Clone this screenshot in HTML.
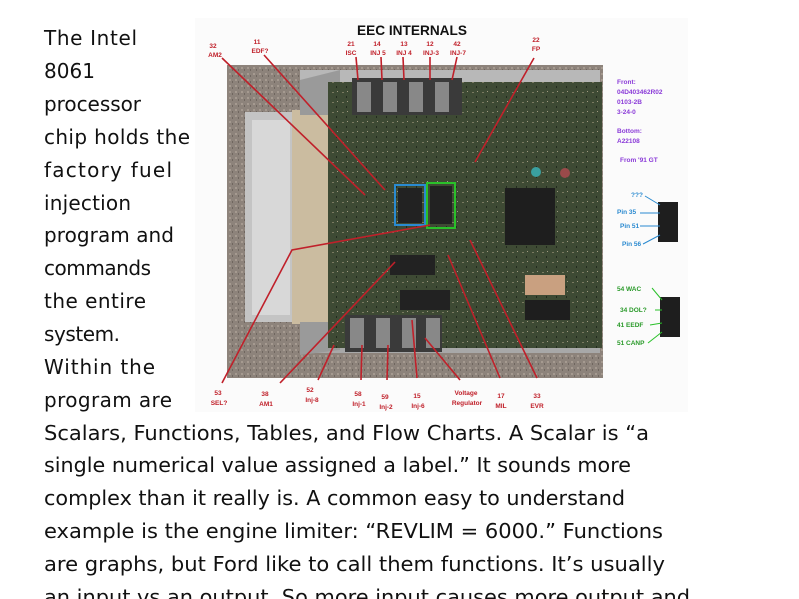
<!DOCTYPE html>
<html><head><meta charset="utf-8"><style>
html,body{margin:0;padding:0;background:#fff;width:799px;height:599px;overflow:hidden}
svg{display:block}
.t{font-family:"DejaVu Sans","Liberation Sans",sans-serif;font-size:20px;fill:#111}
.l{font-family:"Liberation Sans",sans-serif;font-size:6.5px;font-weight:bold;fill:#c0202a}
.p{font-family:"Liberation Sans",sans-serif;font-size:6.5px;font-weight:bold;fill:#8a3ad8}
.b{font-family:"Liberation Sans",sans-serif;font-size:6.5px;font-weight:bold;fill:#2a8ad0}
.g{font-family:"Liberation Sans",sans-serif;font-size:6.5px;font-weight:bold;fill:#2a9a2a}
</style></head><body>
<svg width="799" height="599" viewBox="0 0 799 599" xmlns="http://www.w3.org/2000/svg">
<defs>
<pattern id="carpet" width="6" height="6" patternUnits="userSpaceOnUse">
<rect width="6" height="6" fill="#8d837b"/><rect x="1" y="1" width="2" height="2" fill="#a59a90"/><rect x="4" y="3" width="1" height="2" fill="#6f665f"/>
</pattern>
<pattern id="pcb" width="10" height="10" patternUnits="userSpaceOnUse">
<rect width="10" height="10" fill="#3e4a34"/><rect x="2" y="2" width="2" height="1" fill="#7a7a60"/><rect x="6" y="6" width="1" height="2" fill="#222a1e"/><rect x="7" y="1" width="1" height="1" fill="#a09a80"/>
</pattern>
</defs>
<rect x="195" y="18" width="493" height="394" fill="#fbfbfb"/>
<rect x="227" y="65" width="376" height="313" fill="url(#carpet)"/>
<rect x="300" y="70" width="300" height="12" fill="#b8b8b8"/>
<rect x="300" y="343" width="300" height="10" fill="#a8a8a8"/>
<rect x="245" y="112" width="52" height="210" fill="#c4c4c4"/>
<rect x="252" y="120" width="38" height="195" fill="#d8d8d8"/>
<rect x="292" y="110" width="40" height="214" fill="#cbbca0"/>
<polygon points="300,80 340,70 340,115 300,115" fill="#9a9a9a"/>
<polygon points="300,322 340,322 340,350 300,355" fill="#9a9a9a"/>
<rect x="328" y="82" width="274" height="266" fill="url(#pcb)"/>
<rect x="352" y="78" width="110" height="37" fill="#3a3a3a"/>
<rect x="357" y="82" width="14" height="30" fill="#888"/><rect x="383" y="82" width="14" height="30" fill="#888"/><rect x="409" y="82" width="14" height="30" fill="#888"/><rect x="435" y="82" width="14" height="30" fill="#888"/>
<rect x="345" y="315" width="97" height="37" fill="#3a3a3a"/>
<rect x="350" y="318" width="14" height="30" fill="#888"/><rect x="376" y="318" width="14" height="30" fill="#888"/><rect x="402" y="318" width="14" height="30" fill="#888"/><rect x="426" y="318" width="14" height="30" fill="#888"/>
<rect x="505" y="188" width="50" height="57" fill="#1e1e1e"/>
<rect x="525" y="275" width="40" height="20" fill="#c9a080"/>
<rect x="525" y="300" width="45" height="20" fill="#1e1e1e"/>
<rect x="398" y="188" width="24" height="35" fill="#222"/>
<rect x="430" y="186" width="22" height="38" fill="#222"/>
<rect x="395" y="185" width="30" height="40" fill="none" stroke="#2a8ad0" stroke-width="2"/>
<rect x="427" y="183" width="28" height="45" fill="none" stroke="#2ac02a" stroke-width="2"/>
<rect x="390" y="255" width="45" height="20" fill="#222"/>
<rect x="400" y="290" width="50" height="20" fill="#222"/>
<circle cx="536" cy="172" r="5" fill="#3aa0a0"/><circle cx="565" cy="173" r="5" fill="#9a4a4a"/>
<rect x="658" y="202" width="20" height="40" fill="#1e1e1e"/>
<rect x="660" y="297" width="20" height="40" fill="#1e1e1e"/>
<g stroke="#c0202a" stroke-width="1.6" fill="none">
<line x1="222" y1="58" x2="365" y2="195"/>
<line x1="264" y1="55" x2="385" y2="190"/>
<line x1="356" y1="57" x2="358" y2="80"/><line x1="381" y1="57" x2="382" y2="80"/><line x1="403" y1="57" x2="404" y2="80"/><line x1="430" y1="57" x2="430" y2="80"/><line x1="457" y1="57" x2="452" y2="80"/>
<line x1="534" y1="58" x2="475" y2="162"/>
<polyline points="222,383 292,250 430,225"/>
<line x1="280" y1="383" x2="395" y2="262"/>
<line x1="318" y1="380" x2="334" y2="345"/>
<line x1="361" y1="380" x2="362" y2="345"/>
<line x1="387" y1="380" x2="388" y2="345"/>
<line x1="417" y1="378" x2="412" y2="320"/>
<line x1="460" y1="380" x2="425" y2="338"/>
<line x1="500" y1="378" x2="448" y2="255"/>
<line x1="537" y1="378" x2="470" y2="240"/>
</g>
<g stroke="#2a8ad0" stroke-width="1" fill="none"><line x1="645" y1="196" x2="660" y2="205"/><line x1="640" y1="213" x2="660" y2="213"/><line x1="640" y1="226" x2="660" y2="226"/><line x1="643" y1="244" x2="660" y2="235"/></g>
<g stroke="#2ac02a" stroke-width="1" fill="none"><line x1="652" y1="288" x2="662" y2="300"/><line x1="655" y1="310" x2="662" y2="310"/><line x1="650" y1="325" x2="662" y2="323"/><line x1="648" y1="343" x2="662" y2="332"/></g>
<text x="412" y="35" text-anchor="middle" font-family="Liberation Sans,sans-serif" font-weight="bold" font-size="14" fill="#111" textLength="110" lengthAdjust="spacingAndGlyphs">EEC INTERNALS</text>
<g class="l" text-anchor="middle">
<text x="213" y="48">32</text><text x="215" y="57">AM2</text>
<text x="257" y="44">11</text><text x="260" y="53">EDF?</text>
<text x="351" y="46">21</text><text x="351" y="55">ISC</text>
<text x="377" y="46">14</text><text x="378" y="55">INJ 5</text>
<text x="404" y="46">13</text><text x="404" y="55">INJ 4</text>
<text x="430" y="46">12</text><text x="431" y="55">INJ-3</text>
<text x="457" y="46">42</text><text x="458" y="55">INJ-7</text>
<text x="536" y="42">22</text><text x="536" y="51">FP</text>
<text x="218" y="395">53</text><text x="219" y="405">SEL?</text>
<text x="265" y="396">38</text><text x="266" y="406">AM1</text>
<text x="310" y="392">52</text><text x="312" y="402">Inj-8</text>
<text x="358" y="396">58</text><text x="359" y="406">Inj-1</text>
<text x="385" y="399">59</text><text x="386" y="409">Inj-2</text>
<text x="417" y="398">15</text><text x="418" y="408">Inj-6</text>
<text x="466" y="395">Voltage</text><text x="467" y="405">Regulator</text>
<text x="501" y="398">17</text><text x="501" y="408">MIL</text>
<text x="537" y="398">33</text><text x="537" y="408">EVR</text>
</g>
<g class="p">
<text x="617" y="84">Front:</text><text x="617" y="94">04D403462R02</text><text x="617" y="104">0103-2B</text><text x="617" y="114">3-24-0</text>
<text x="617" y="133">Bottom:</text><text x="617" y="143">A22108</text><text x="620" y="162">From '91 GT</text>
</g>
<g class="b"><text x="631" y="197">???</text><text x="617" y="214">Pin 35</text><text x="620" y="228">Pin 51</text><text x="622" y="246">Pin 56</text></g>
<g class="g"><text x="617" y="291">54 WAC</text><text x="620" y="312">34 DOL?</text><text x="617" y="327">41 EEDF</text><text x="617" y="345">51 CANP</text></g>
<g class="t">
<text x="44" y="45" textLength="93" lengthAdjust="spacing">The Intel</text>
<text x="44" y="78" textLength="51" lengthAdjust="spacing">8061</text>
<text x="44" y="111" textLength="97" lengthAdjust="spacing">processor</text>
<text x="44" y="144" textLength="146" lengthAdjust="spacing">chip holds the</text>
<text x="44" y="177" textLength="128" lengthAdjust="spacing">factory fuel</text>
<text x="44" y="210" textLength="87" lengthAdjust="spacing">injection</text>
<text x="44" y="242" textLength="130" lengthAdjust="spacing">program and</text>
<text x="44" y="275" textLength="107" lengthAdjust="spacing">commands</text>
<text x="44" y="308" textLength="102" lengthAdjust="spacing">the entire</text>
<text x="44" y="341" textLength="76" lengthAdjust="spacing">system.</text>
<text x="44" y="374" textLength="111" lengthAdjust="spacing">Within the</text>
<text x="44" y="407" textLength="128" lengthAdjust="spacing">program are</text>
<text x="44" y="440" textLength="605" lengthAdjust="spacingAndGlyphs">Scalars, Functions, Tables, and Flow Charts. A Scalar is “a</text>
<text x="44" y="472" textLength="587" lengthAdjust="spacingAndGlyphs">single numerical value assigned a label.” It sounds more</text>
<text x="44" y="505" textLength="581" lengthAdjust="spacingAndGlyphs">complex than it really is. A common easy to understand</text>
<text x="44" y="538" textLength="619" lengthAdjust="spacingAndGlyphs">example is the engine limiter: “REVLIM = 6000.” Functions</text>
<text x="44" y="571" textLength="621" lengthAdjust="spacingAndGlyphs">are graphs, but Ford like to call them functions. It’s usually</text>
<text x="44" y="604" textLength="646" lengthAdjust="spacingAndGlyphs">an input vs an output. So more input causes more output and</text>
</g>
</svg>
</body></html>
